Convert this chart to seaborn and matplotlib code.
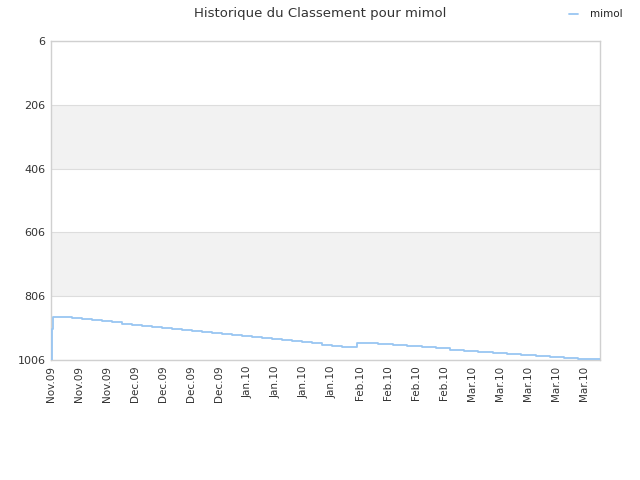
import pandas as pd
import matplotlib
matplotlib.use("Agg")
import matplotlib.pyplot as plt
import seaborn as sns

# Ranking history (day offset from first point, rank)
days = [0, 0.2, 0.4,
        5.2, 7.7, 10.2, 12.7, 15.2, 17.7, 20.2, 22.7, 25.2, 27.7,
        30.2, 32.7, 35.2, 37.7, 40.2, 42.7, 45.2, 47.7, 50.2, 52.7,
        55.2, 57.7, 60.2, 62.7, 65.2, 67.7, 70.2, 72.7,
        76.3, 81.7, 85.3, 88.9, 92.5, 96.1, 99.5, 103.1, 106.6, 110.2,
        113.8, 117.4, 121.0, 124.5, 128.1, 131.6, 137.0]
ranks = [1006, 909, 872,
         875, 878, 882, 885, 888, 892, 895, 898, 902, 905,
         908, 911, 915, 918, 921, 925, 928, 931, 935, 938,
         941, 944, 948, 951, 954, 958, 961, 964,
         952, 955, 958, 962, 965, 969, 974, 977, 981, 984,
         987, 991, 994, 997, 1000, 1003, 1003]

tick_days = [0, 7, 14, 21, 28, 35, 42, 49, 56, 63, 70, 77, 84, 91, 98,
             105, 112, 119, 126, 133]
tick_labels = ["Nov.09", "Nov.09", "Nov.09", "Dec.09", "Dec.09", "Dec.09",
               "Dec.09", "Jan.10", "Jan.10", "Jan.10", "Jan.10", "Feb.10",
               "Feb.10", "Feb.10", "Feb.10", "Mar.10", "Mar.10", "Mar.10",
               "Mar.10", "Mar.10"]
y_ticks = [6, 206, 406, 606, 806, 1006]

df = pd.DataFrame({"day": days, "rank": ranks})

sns.set_style("white")
plt.rcParams["font.family"] = ["DejaVu Sans"]

fig = plt.figure(figsize=(6.4, 4.8), dpi=100)
ax = fig.add_axes([51 / 640, 0.25, (600 - 51) / 640, (360 - 41) / 480])

# alternating bands
ax.axhspan(206, 406, color="#f2f2f2", zorder=0, lw=0)
ax.axhspan(606, 806, color="#f2f2f2", zorder=0, lw=0)
for y in y_ticks:
    ax.axhline(y, color="#dddddd", lw=0.8, zorder=1)

sns.lineplot(data=df, x="day", y="rank", ax=ax, color="#99c6f2", lw=1.3,
             drawstyle="steps-post", estimator=None, label="mimol", zorder=3)

ax.set_xlim(0, 137)
ax.set_ylim(1006, 6)
ax.set_yticks(y_ticks)
ax.set_yticklabels([str(v) for v in y_ticks], fontsize=8, color="#333333")
ax.set_xticks(tick_days)
ax.set_xticklabels(tick_labels, rotation=90, fontsize=7.5, color="#333333")
ax.tick_params(length=0, pad=4)
ax.set_xlabel("")
ax.set_ylabel("")
for s in ax.spines.values():
    s.set_color("#d0d0d0")
    s.set_linewidth(1)

fig.suptitle("Historique du Classement pour mimol", y=0.985, fontsize=9.5,
             color="#333333")
handles, labels = ax.get_legend_handles_labels()
ax.get_legend().remove()
leg = fig.legend(handles, labels, loc="upper right",
                 bbox_to_anchor=(632 / 640, 1.0),
                 frameon=False, fontsize=7.5, handlelength=0.8,
                 handletextpad=1.2)
for t in leg.get_texts():
    t.set_color("#222222")

fig.savefig("out.png", dpi=100)
